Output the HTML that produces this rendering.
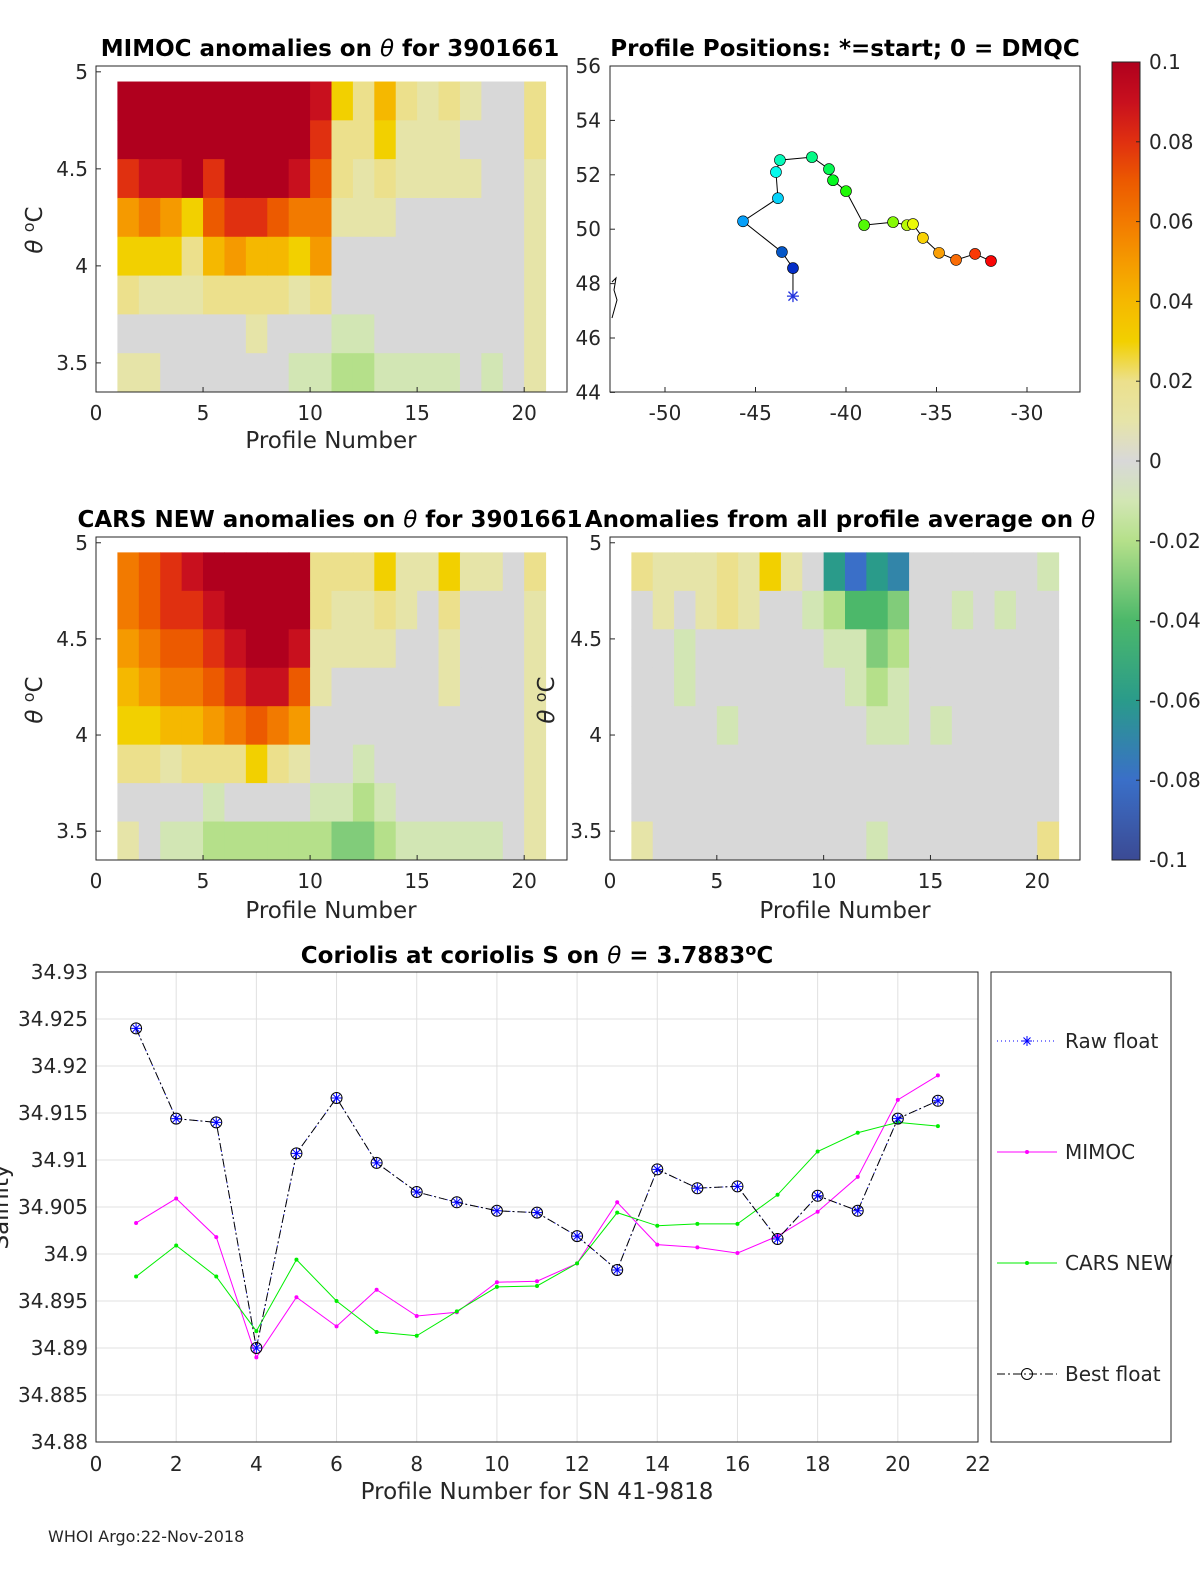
<!DOCTYPE html>
<html><head><meta charset="utf-8">
<style>
html,body{margin:0;padding:0;background:#fff;overflow:hidden;width:1200px;height:1575px;}
svg{display:block;}
svg text{font-family:"DejaVu Sans","Liberation Sans",sans-serif;fill:#262626;}
.t{font-weight:bold;font-size:23px;fill:#000;}
.tk{font-size:20px;}
.lb{font-size:23px;}
</style></head>
<body>
<svg id="fig" width="1200" height="1575" viewBox="0 0 1200 1575" xmlns="http://www.w3.org/2000/svg">
<rect width="1200" height="1575" fill="#fff"/>
<g id="g"></g>
<text class="t" x="330" y="56" text-anchor="middle">MIMOC anomalies on <tspan font-style="italic" font-weight="normal">θ</tspan>  for 3901661</text>
<text class="t" x="845" y="56" text-anchor="middle">Profile Positions: *=start; 0 = DMQC</text>
<text class="t" x="330" y="527" text-anchor="middle">CARS NEW anomalies on <tspan font-style="italic" font-weight="normal">θ</tspan> for 3901661</text>
<text class="t" x="840" y="527" text-anchor="middle">Anomalies from all profile average on <tspan font-style="italic" font-weight="normal">θ</tspan></text>
<text class="t" x="537" y="963" text-anchor="middle">Coriolis at coriolis S on <tspan font-style="italic" font-weight="normal">θ</tspan> = 3.7883<tspan dy="-8" font-size="16">o</tspan><tspan dy="8">C</tspan></text>
<text class="lb" x="331" y="448" text-anchor="middle">Profile Number</text>
<text class="lb" x="331" y="918" text-anchor="middle">Profile Number</text>
<text class="lb" x="845" y="918" text-anchor="middle">Profile Number</text>
<text class="lb" x="537" y="1499" text-anchor="middle">Profile Number for SN 41-9818</text>
<text class="lb" transform="translate(42,230) rotate(-90)" text-anchor="middle"><tspan font-style="italic">θ</tspan> <tspan dy="-8" font-size="16">o</tspan><tspan dy="8">C</tspan></text>
<text class="lb" transform="translate(42,700) rotate(-90)" text-anchor="middle"><tspan font-style="italic">θ</tspan> <tspan dy="-8" font-size="16">o</tspan><tspan dy="8">C</tspan></text>
<text class="lb" transform="translate(554,700) rotate(-90)" text-anchor="middle"><tspan font-style="italic">θ</tspan> <tspan dy="-8" font-size="16">o</tspan><tspan dy="8">C</tspan></text>
<text class="lb" transform="translate(8,1207) rotate(-90)" text-anchor="middle">Salinity</text>
<text x="48" y="1542" font-size="16">WHOI Argo:22-Nov-2018</text>
</svg>
<script>
const NS="http://www.w3.org/2000/svg";
const G=document.getElementById('g');
function mk(tag,at,parent){const e=document.createElementNS(NS,tag);for(const k in at)e.setAttribute(k,at[k]);(parent||G).appendChild(e);return e;}

const thetaRows=[4.85,4.65,4.45,4.25,4.05,3.85,3.65,3.45];
const mimocVals=[[10,10,8,5,3,2,0,1],[10,10,9,6,3,1,0,1],[10,10,9,5,3,1,0,0],[10,10,10,3,2,1,0,0],[10,10,8,7,4,2,0,0],[10,10,10,8,5,2,0,0],[10,10,10,8,4,2,1,0],[10,10,10,7,4,2,0,0],[10,10,9,6,3,1,0,-1],[9,8,7,6,5,2,0,-1],[3,2,2,1,0,0,-1,-2],[2,2,1,1,0,0,-1,-2],[4,3,2,1,0,0,0,-1],[2,1,1,0,0,0,0,-1],[1,1,1,0,0,0,0,-1],[2,1,1,0,0,0,0,-1],[1,0,1,0,0,0,0,0],[0,0,0,0,0,0,0,-1],[0,0,0,0,0,0,0,0],[2,2,1,1,1,1,1,1]];
const carsVals=[[6,6,5,4,3,2,0,1],[7,7,6,5,3,2,0,0],[8,8,7,6,4,1,0,-1],[9,8,7,6,4,2,0,-1],[10,9,8,7,5,2,-1,-2],[10,10,9,8,6,2,0,-2],[10,10,10,9,7,3,0,-2],[10,10,10,9,6,2,0,-2],[10,10,9,7,5,1,0,-2],[2,2,1,1,0,0,-1,-2],[2,1,1,0,0,0,-1,-3],[2,1,1,0,0,-1,-2,-3],[3,2,1,0,0,0,-1,-2],[1,1,0,0,0,0,0,-1],[1,0,0,0,0,0,0,-1],[3,2,1,1,0,0,0,-1],[1,0,0,0,0,0,0,-1],[1,0,0,0,0,0,0,-1],[0,0,0,0,0,0,0,0],[2,1,1,1,1,1,1,1]];
const avgVals=[[2,0,0,0,0,0,0,1],[1,1,0,0,0,0,0,0],[1,0,-1,-1,0,0,0,0],[1,1,0,0,0,0,0,0],[2,2,0,0,-1,0,0,0],[1,1,0,0,0,0,0,0],[3,0,0,0,0,0,0,0],[1,0,0,0,0,0,0,0],[0,-1,0,0,0,0,0,0],[-6,-2,-1,0,0,0,0,0],[-8,-4,-1,-1,0,0,0,0],[-6,-4,-3,-2,-1,0,0,-1],[-7,-3,-2,-1,-1,0,0,0],[0,0,0,0,0,0,0,0],[0,0,0,0,-1,0,0,0],[0,-1,0,0,0,0,0,0],[0,0,0,0,0,0,0,0],[0,-1,0,0,0,0,0,0],[0,0,0,0,0,0,0,0],[-1,0,0,0,0,0,0,2]];
const thetaTicks=[3.5,4,4.5,5];
const profTicks=[0,5,10,15,20];

const lons=[-42.93,-42.93,-43.54,-45.69,-43.76,-43.87,-43.65,-41.88,-40.94,-40.72,-40.0,-39.0,-37.4,-36.63,-36.3,-35.75,-34.86,-33.92,-32.87,-31.99];
const lats=[47.54,48.57,49.16,50.29,51.14,52.10,52.54,52.65,52.21,51.80,51.40,50.15,50.26,50.15,50.19,49.68,49.13,48.87,49.09,48.83];
const lonTicks=[-50,-45,-40,-35,-30];
const latTicks=[44,46,48,50,52,54,56];

const profiles=[1,2,3,4,5,6,7,8,9,10,11,12,13,14,15,16,17,18,19,20,21];
const floatSal=[34.924,34.9144,34.914,34.890,34.9107,34.9166,34.9097,34.9066,34.9055,34.9046,34.9044,34.9019,34.8983,34.909,34.907,34.9072,34.9016,34.9062,34.9046,34.9144,34.9163];
const mimocSal=[34.9033,34.9059,34.9018,34.889,34.8954,34.8923,34.8962,34.8934,34.8938,34.897,34.8971,34.899,34.9055,34.901,34.9007,34.9001,34.9019,34.9045,34.9082,34.9164,34.919];
const carsSal=[34.8976,34.9009,34.8976,34.8918,34.8994,34.895,34.8917,34.8913,34.8939,34.8965,34.8966,34.899,34.9044,34.903,34.9032,34.9032,34.9063,34.9109,34.9129,34.914,34.9136];
const salTicks=[34.88,34.885,34.89,34.895,34.9,34.905,34.91,34.915,34.92,34.925,34.93];
const salTickLabels=['34.88','34.885','34.89','34.895','34.9','34.905','34.91','34.915','34.92','34.925','34.93'];
const xTicksS=[0,2,4,6,8,10,12,14,16,18,20,22];
const cbTicks=[0.1,0.08,0.06,0.04,0.02,0,-0.02,-0.04,-0.06,-0.08,-0.1];
const cbLabels=['0.1','0.08','0.06','0.04','0.02','0','-0.02','-0.04','-0.06','-0.08','-0.1'];

const stops=[[-10,[59,74,148]],[-8,[58,111,200]],[-6,[42,155,138]],[-4,[76,184,106]],[-2,[181,224,138]],[-1,[210,230,180]],[0,[216,216,216]],[1,[230,228,168]],[2,[236,224,140]],[3,[242,208,0]],[4,[245,184,0]],[5,[245,154,0]],[6,[242,122,0]],[7,[236,90,0]],[8,[224,48,16]],[9,[200,16,30]],[10,[176,0,30]]];
function cmap(v){v=Math.max(-10,Math.min(10,v));for(let i=0;i<stops.length-1;i++){const[a,ca]=stops[i],[b,cb]=stops[i+1];if(v<=b){const t=(v-a)/(b-a);return 'rgb('+ca.map((c,j)=>Math.round(c+(cb[j]-c)*t)).join(',')+')';}}return 'rgb(176,0,30)';}

function txt(x,y,s,anchor,cls,name){const t=mk('text',{x:x,y:y,'text-anchor':anchor,class:cls||'tk'});t.textContent=s;return t;}

function heat(name,vals,X0,X1,Y0,Y1,yLabX){
  const sx=p=>X0+(X1-X0)*p/22;
  const tTop=5.03,tBot=3.35;
  const sy=t=>Y0+(Y1-Y0)*(tTop-t)/(tTop-tBot);
  const g=mk('g',{});
  vals.forEach((col,i)=>{col.forEach((v,j)=>{
    const y0=sy(thetaRows[j]+0.1),y1=sy(thetaRows[j]-0.1);
    const r=mk('rect',{x:sx(i+1),y:y0,width:sx(i+2)-sx(i+1)+0.5,height:y1-y0+0.5,fill:cmap(v)},g);
    
  });});
  const b=mk('rect',{x:X0,y:Y0,width:X1-X0,height:Y1-Y0,fill:'none',stroke:'#262626','stroke-width':1});
  
  profTicks.forEach(p=>{mk('line',{x1:sx(p),x2:sx(p),y1:Y1,y2:Y1-5,stroke:'#262626'});txt(sx(p),Y1+28,String(p),'middle','tk','x-tick-label');});
  thetaTicks.forEach(t=>{mk('line',{x1:X0,x2:X0+5,y1:sy(t),y2:sy(t),stroke:'#262626'});txt(yLabX,sy(t)+7,String(t),'end','tk','y-tick-label');});
}
heat('mimoc-heatmap',mimocVals,96,567,66,392,88);
heat('cars-heatmap',carsVals,96,567,537,860,88);
heat('avg-anomaly-heatmap',avgVals,610,1080,537,860,602);

(function(){
  const X0=610,X1=1080,Y0=66,Y1=392;
  const sx=l=>665+(l+50)*18.1, sy=a=>66+(56-a)*27.2;
  const b=mk('rect',{x:X0,y:Y0,width:X1-X0,height:Y1-Y0,fill:'none',stroke:'#262626'});
  
  mk('path',{d:'M612 282 L616 278 L614 290 L617 300 L612 318',stroke:'#000',fill:'none','stroke-width':1});
  lonTicks.forEach(l=>{mk('line',{x1:sx(l),x2:sx(l),y1:Y1,y2:Y1-5,stroke:'#262626'});txt(sx(l),Y1+28,String(l),'middle','tk','lon-tick-label');});
  latTicks.forEach(a=>{mk('line',{x1:X0,x2:X0+5,y1:sy(a),y2:sy(a),stroke:'#262626'});txt(601,sy(a)+7,String(a),'end','tk','lat-tick-label');});
  const pl=mk('polyline',{points:lons.map((l,i)=>sx(l)+','+sy(lats[i])).join(' '),fill:'none',stroke:'#000','stroke-width':1});
  
  lons.forEach((l,i)=>{
    const h=240-240*i/(lons.length-1);
    const col='hsl('+h+',95%,'+(i<3?40:50)+'%)';
    const x=sx(l),y=sy(lats[i]);
    if(i===0){const s=mk('path',{d:`M${x-6} ${y}H${x+6}M${x} ${y-6}V${y+6}M${x-4.5} ${y-4.5}L${x+4.5} ${y+4.5}M${x-4.5} ${y+4.5}L${x+4.5} ${y-4.5}`,stroke:'#2233dd','stroke-width':1.3});return;}
    const c=mk('circle',{cx:x,cy:y,r:5.5,fill:col,stroke:'#000','stroke-width':0.6});
    
  });
})();

(function(){
  const X=1112,W=28,Y0=62,Y1=860;
  const defs=mk('defs',{});const lg=mk('linearGradient',{id:'cbg',x1:0,y1:0,x2:0,y2:1},defs);
  for(let v=10;v>=-10;v-=1){mk('stop',{offset:(10-v)/20,'stop-color':cmap(v)},lg);}
  const r=mk('rect',{x:X,y:Y0,width:W,height:Y1-Y0,fill:'url(#cbg)',stroke:'#262626'});
  
  cbTicks.forEach((v,i)=>{const y=Y0+(0.1-v)/0.2*(Y1-Y0);mk('line',{x1:X+W-4,x2:X+W,y1:y,y2:y,stroke:'#262626'});txt(X+W+9,y+7,cbLabels[i],'start','tk','colorbar-tick-label');});
})();

(function(){
  const X0=96,X1=978,Y0=972,Y1=1442;
  const sx=p=>X0+(X1-X0)*p/22, sy=s=>Y1-(Y1-Y0)*(s-34.88)/0.05;
  mk('rect',{x:X0,y:Y0,width:X1-X0,height:Y1-Y0,fill:'#fff'});
  xTicksS.forEach(p=>{mk('line',{x1:sx(p),x2:sx(p),y1:Y0,y2:Y1,stroke:'#e0e0e0'});txt(sx(p),Y1+29,String(p),'middle','tk','x-tick-label');});
  salTicks.forEach((s,i)=>{mk('line',{x1:X0,x2:X1,y1:sy(s),y2:sy(s),stroke:'#e0e0e0'});txt(88,sy(s)+7,salTickLabels[i],'end','tk','y-tick-label');});
  const b=mk('rect',{x:X0,y:Y0,width:X1-X0,height:Y1-Y0,fill:'none',stroke:'#262626'});
  
  function line(arr,col,dash,name){const l=mk('polyline',{points:arr.map((v,i)=>sx(profiles[i])+','+sy(v)).join(' '),fill:'none',stroke:col,'stroke-width':1,'stroke-dasharray':dash||'none'});}
  line(mimocSal,'#ff00ff','','mimoc-line');
  mimocSal.forEach((v,i)=>{const c=mk('circle',{cx:sx(profiles[i]),cy:sy(v),r:2,fill:'#ff00ff'});});
  line(carsSal,'#00ee00','','cars-line');
  carsSal.forEach((v,i)=>{const c=mk('circle',{cx:sx(profiles[i]),cy:sy(v),r:2,fill:'#00ee00'});});
  line(floatSal,'#0000ff','1 3','raw-float-line');
  line(floatSal,'#000','8 3 2 3','best-float-line');
  floatSal.forEach((v,i)=>{
    const x=sx(profiles[i]),y=sy(v);
    const c=mk('circle',{cx:x,cy:y,r:5.5,fill:'none',stroke:'#000'});
    const s=mk('path',{d:`M${x-5} ${y}H${x+5}M${x} ${y-5}V${y+5}M${x-3.5} ${y-3.5}L${x+3.5} ${y+3.5}M${x-3.5} ${y+3.5}L${x+3.5} ${y-3.5}`,stroke:'#0000ff','stroke-width':1});
    
  });
  const lb=mk('rect',{x:991,y:972,width:180,height:470,fill:'#fff',stroke:'#262626'});
  
  const ent=[['Raw float',1041,'#0000ff','1 3'],['MIMOC',1152,'#ff00ff',''],['CARS NEW',1263,'#00ee00',''],['Best float',1374,'#000','8 3 2 3']];
  ent.forEach((e,i)=>{
    mk('line',{x1:997,x2:1057,y1:e[1],y2:e[1],stroke:e[2],'stroke-dasharray':e[3]||'none'});
    if(i===0)mk('path',{d:`M1022 ${e[1]}h10M1027 ${e[1]-5}v10M1023.5 ${e[1]-3.5}l7 7M1023.5 ${e[1]+3.5}l7 -7`,stroke:'#0000ff'});
    if(i===1||i===2)mk('circle',{cx:1027,cy:e[1],r:2,fill:e[2]});
    if(i===3)mk('circle',{cx:1027,cy:e[1],r:5.5,fill:'none',stroke:'#000'});
    txt(1065,e[1]+7,e[0],'start','tk','legend-entry');
  });
})();
</script>
</body></html>
